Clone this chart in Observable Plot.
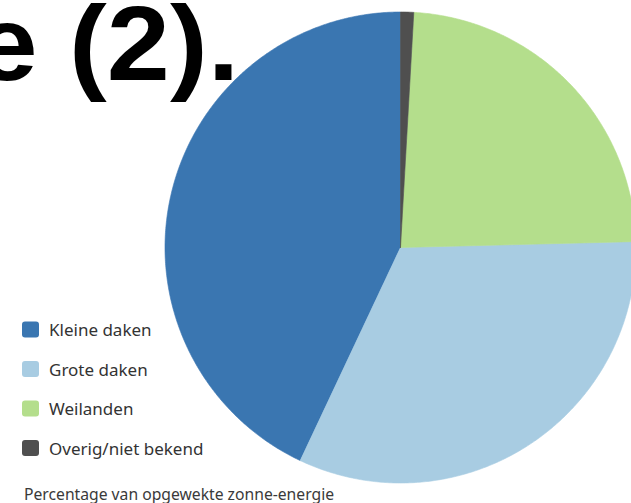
<!DOCTYPE html>
<html>
<head>
<meta charset="utf-8">
<script src="https://cdn.jsdelivr.net/npm/d3@7"></script>
<script src="https://cdn.jsdelivr.net/npm/@observablehq/plot@0.6"></script>
<style>
  html, body { margin: 0; padding: 0; background: #fff; }
  #wrap { position: relative; width: 631px; height: 503px; overflow: hidden; background: #fff; }
  #chart { position: absolute; left: 0; top: 0; }
  #overlay { position: absolute; left: 0; top: 0; pointer-events: none; }
</style>
</head>
<body>
<div id="wrap">
  <div id="chart"></div>
  <svg id="overlay" width="631" height="503"></svg>
</div>
<script>
// ---- data ----
const categories = ["Kleine daken", "Grote daken", "Weilanden", "Overig/niet bekend"];
const shares = [43.0, 32.4, 23.7, 0.9];
const colors = ["#3a76b1", "#a8cce2", "#b4de8c", "#4f4f4f"];
const titleText = "e (2).";
const captionText = "Percentage van opgewekte zonne-energie";

// ---- build slice outlines (counterclockwise from 12 o'clock) ----
const total = d3.sum(shares);
const pts = [];
let start = 0;
categories.forEach((name, i) => {
  const end = start - shares[i] / total * 2 * Math.PI;
  const n = Math.max(2, Math.ceil(Math.abs(end - start) / (Math.PI / 360)));
  pts.push({name, x: 0, y: 0});
  for (let k = 0; k <= n; k++) {
    const a = start + (end - start) * k / n;
    pts.push({name, x: Math.sin(a), y: Math.cos(a)});
  }
  pts.push({name, x: 0, y: 0});
  start = end;
});

const R = 235.5, cx = 400, cy = 247, W = 631, H = 503;
const chart = Plot.plot({
  width: W,
  height: H,
  margin: 0,
  x: {domain: [-cx / R, (W - cx) / R], axis: null},
  y: {domain: [-(H - cy) / R, cy / R], axis: null},
  color: {domain: categories, range: colors},
  marks: [
    Plot.line(pts, {x: "x", y: "y", z: "name", fill: "name", stroke: "name", strokeWidth: 0.6, curve: "linear"})
  ]
});
document.getElementById("chart").appendChild(chart);

// ---- overlay: title, legend, caption ----
const ov = d3.select("#overlay");
ov.append("text")
  .attr("transform", "translate(-25.5,80) scale(1.07,1)")
  .attr("x", 0).attr("y", 0)
  .attr("font-family", "'Liberation Sans', Arial, sans-serif")
  .attr("font-weight", "bold")
  .attr("font-size", 106)
  .attr("fill", "#000")
  .text(titleText);

const leg = ov.append("g");
categories.forEach((name, i) => {
  const yc = 329.5 + i * 39.5;
  leg.append("rect")
    .attr("x", 22).attr("y", yc - 8).attr("width", 17).attr("height", 16)
    .attr("rx", 3).attr("fill", colors[i]);
  leg.append("text")
    .attr("x", 49).attr("y", yc + 6.5)
    .attr("font-family", "'Noto Sans', 'Open Sans', sans-serif")
    .attr("font-size", 17)
    .attr("fill", "#333")
    .text(name);
});

ov.append("text")
  .attr("x", 24).attr("y", 499.5)
  .attr("font-family", "'Noto Sans', 'Open Sans', sans-serif")
  .attr("font-size", 15.7)
  .attr("fill", "#3a3a3a")
  .text(captionText);
</script>
</body>
</html>
